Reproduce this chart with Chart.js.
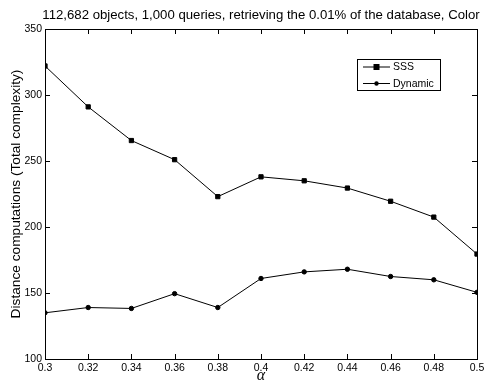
<!DOCTYPE html>
<html>
<head>
<meta charset="utf-8">
<script src="https://cdn.jsdelivr.net/npm/chart.js@4"></script>
<style>
  html, body { margin: 0; padding: 0; background: #fff; }
  #wrap { width: 492px; height: 385px; }
</style>
</head>
<body>
<div id="wrap"><canvas id="chart"></canvas></div>
<script>
// data
const alphas = [0.3, 0.32, 0.34, 0.36, 0.38, 0.4, 0.42, 0.44, 0.46, 0.48, 0.5];
const sss = [322, 291, 265.5, 251, 223, 238, 235, 229.5, 219.5, 207.5, 179.5];
const dynamic = [135, 139, 138.3, 149.5, 139, 161, 166, 168, 162.5, 160, 150.5];
const yTicks = [100, 150, 200, 250, 300, 350];
const titleText = "112,682 objects, 1,000 queries, retrieving the 0.01% of the database, Color";

const FONT = "'Liberation Sans', Arial, sans-serif";

// MATLAB-ish box with inward ticks on all four sides, title centred over the axes
const boxPlugin = {
  id: "box",
  afterDraw(chart) {
    const { ctx, chartArea: a, scales } = chart;
    ctx.save();
    ctx.fillStyle = "#000";
    ctx.font = "13.2px " + FONT;
    ctx.textAlign = "center";
    ctx.textBaseline = "alphabetic";
    ctx.fillText(titleText, (a.left + a.right) / 2, 19);
    ctx.textAlign = "left";

    ctx.strokeStyle = "#000";
    ctx.lineWidth = 1;
    ctx.strokeRect(a.left + 0.5, a.top + 0.5, a.right - a.left, a.bottom - a.top);
    const len = 5;
    ctx.beginPath();
    alphas.forEach(v => {
      const x = Math.round(scales.x.getPixelForValue(v)) + 0.5;
      ctx.moveTo(x, a.bottom); ctx.lineTo(x, a.bottom - len);
      ctx.moveTo(x, a.top); ctx.lineTo(x, a.top + len);
    });
    yTicks.forEach(v => {
      const y = Math.round(scales.y.getPixelForValue(v)) + 0.5;
      ctx.moveTo(a.left, y); ctx.lineTo(a.left + len, y);
      ctx.moveTo(a.right, y); ctx.lineTo(a.right - len, y);
    });
    ctx.stroke();

    // legend box in upper right
    const lx = a.left + 312, ly = a.top + 30, lw = 83, lh = 31;
    ctx.fillStyle = "#fff";
    ctx.fillRect(lx, ly, lw, lh);
    ctx.strokeRect(lx + 0.5, ly + 0.5, lw, lh);
    ctx.font = "10.5px " + FONT;
    ctx.textBaseline = "middle";
    chart.data.datasets.forEach((ds, i) => {
      const y = ly + 8 + i * 16.5;
      ctx.beginPath();
      ctx.moveTo(lx + 6, y); ctx.lineTo(lx + 33, y);
      ctx.stroke();
      ctx.fillStyle = "#000";
      if (ds.pointStyle === "rect") {
        ctx.fillRect(lx + 16.5, y - 3, 6, 6);
      } else {
        ctx.beginPath(); ctx.arc(lx + 19.5, y, 2.2, 0, Math.PI * 2); ctx.fill();
      }
      ctx.fillText(ds.label, lx + 36, y + 0.5);
    });
    ctx.restore();
  }
};

new Chart(document.getElementById("chart"), {
  type: "line",
  data: {
    datasets: [
      {
        label: "SSS",
        data: alphas.map((x, i) => ({ x, y: sss[i] })),
        borderColor: "#000", backgroundColor: "#000",
        borderWidth: 1, pointStyle: "rect", pointRadius: 3, tension: 0
      },
      {
        label: "Dynamic",
        data: alphas.map((x, i) => ({ x, y: dynamic[i] })),
        borderColor: "#000", backgroundColor: "#000",
        borderWidth: 1, pointStyle: "circle", pointRadius: 2.2, tension: 0
      }
    ]
  },
  options: {
    responsive: true,
    maintainAspectRatio: false,
    animation: false,
    layout: { padding: { left: 0, right: 15, top: 29, bottom: 0 } },
    plugins: {
      legend: { display: false },
      tooltip: { enabled: false },
      title: { display: false }
    },
    scales: {
      x: {
        type: "linear",
        min: 0.3, max: 0.5,
        afterBuildTicks: s => { s.ticks = alphas.map(v => ({ value: v })); },
        afterFit: s => { s.height = 26; },
        grid: { display: false, drawTicks: false },
        border: { display: false },
        ticks: {
          color: "#000", padding: 3, maxRotation: 0,
          font: { family: FONT, size: 10.5 },
          callback: v => String(parseFloat(v.toFixed(2)))
        },
        title: {
          display: true, text: "α", color: "#000",
          font: { family: "'Liberation Serif', serif", size: 16, style: "italic" },
          padding: { top: 0, bottom: 0 }
        }
      },
      y: {
        min: 100, max: 350,
        afterBuildTicks: s => { s.ticks = yTicks.map(v => ({ value: v })); },
        afterFit: s => { s.width = 45; },
        grid: { display: false, drawTicks: false },
        border: { display: false },
        ticks: { color: "#000", padding: 3, font: { family: FONT, size: 10.5 } },
        title: {
          display: true, text: "Distance computations (Total complexity)", color: "#000",
          font: { family: FONT, size: 13.7 },
          padding: { top: 8, bottom: 0 }
        }
      }
    }
  },
  plugins: [boxPlugin]
});
</script>
</body>
</html>
